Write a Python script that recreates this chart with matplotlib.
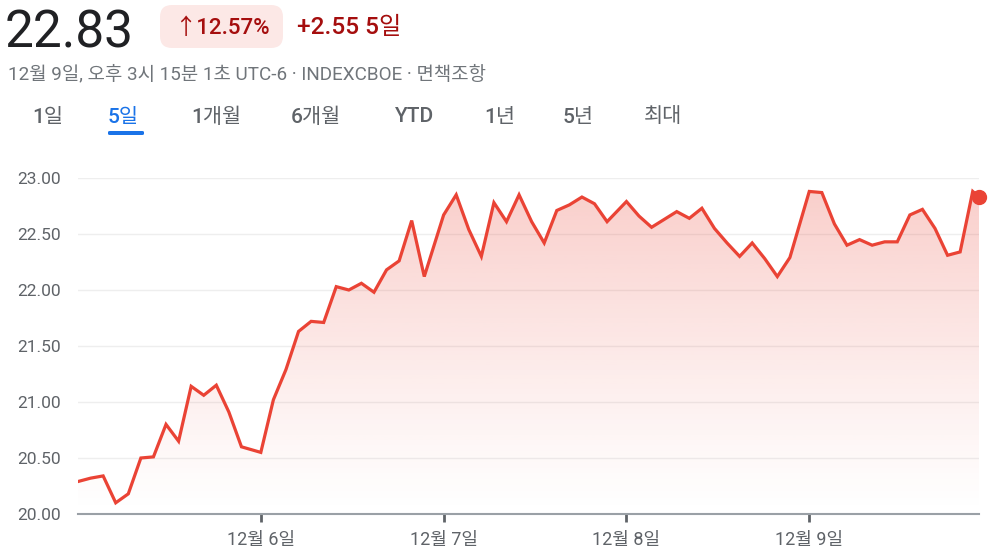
import numpy as np
import matplotlib.pyplot as plt
from matplotlib.patches import FancyBboxPatch

# 30-minute quotes per trading day (08:30 .. 15:00), last day also has the 15:15 close
day_labels = ['12월 5일', '12월 6일', '12월 7일', '12월 8일', '12월 9일']
slot_times = ['08:30', '09:00', '09:30', '10:00', '10:30', '11:00', '11:30',
              '12:00', '12:30', '13:00', '13:30', '14:00', '14:30', '15:00']
last_time = '15:15'

dec5 = [20.29, 20.32, 20.34, 20.10, 20.18, 20.50, 20.51, 20.80, 20.65, 21.14, 21.06, 21.15, 20.91, 20.60]
dec6 = [20.55, 21.02, 21.29, 21.63, 21.72, 21.71, 22.03, 22.00, 22.06, 21.98, 22.18, 22.26, 22.62, 22.12]
dec7 = [22.67, 22.85, 22.54, 22.30, 22.78, 22.61, 22.85, 22.61, 22.42, 22.71, 22.76, 22.83, 22.77, 22.61]
dec8 = [22.79, 22.66, 22.56, 22.63, 22.70, 22.64, 22.73, 22.55, 22.42, 22.30, 22.42, 22.28, 22.12, 22.29]
dec9 = [22.88, 22.87, 22.59, 22.40, 22.45, 22.40, 22.43, 22.43, 22.67, 22.72, 22.55, 22.31, 22.34, 22.88, 22.83]

y_ticks = [20.0, 20.5, 21.0, 21.5, 22.0, 22.5, 23.0]
tabs = ['1일', '5일', '1개월', '6개월', 'YTD', '1년', '5년', '최대']

RED = '#ea4335'
GRAY = '#5f6368'
FONT = ['Roboto', 'Noto Sans CJK KR', 'DejaVu Sans']
plt.rcParams['font.family'] = FONT

DAY_SLOTS = 14.54  # width of one day on the compressed time axis, in 30-min slots


def slot(t):
    h, m = t.split(':')
    return (int(h) * 60 + int(m) - 510) / 30.0


xs, ys = [], []
for d, vals in enumerate([dec5, dec6, dec7, dec8, dec9]):
    times = slot_times + ([last_time] if len(vals) > len(slot_times) else [])
    for t, v in zip(times, vals):
        xs.append(d * DAY_SLOTS + slot(t))
        ys.append(v)
xs = np.array(xs)
ys = np.array(ys)

W, H = 997, 554
fig = plt.figure(figsize=(W / 100, H / 100), dpi=100)


def fx(x):
    return x / W


def fy(y):
    return 1 - y / H


ax = fig.add_axes([fx(78), fy(514), fx(979) - fx(78), fy(178) - fy(514)])
ax.set_xlim(xs[0], xs[-1])
ax.set_ylim(20.0, 23.0)

# gradient fill under the line
fill = ax.fill_between(xs, ys, 20.0, facecolor='none', edgecolor='none')
grad = np.zeros((256, 1, 4))
grad[:, 0, 0] = 234 / 255
grad[:, 0, 1] = 67 / 255
grad[:, 0, 2] = 53 / 255
grad[:, 0, 3] = np.linspace(0.32, 0.0, 256) ** 1.15
im = ax.imshow(grad, extent=[xs[0], xs[-1], 20.0, 23.0], aspect='auto',
               origin='upper', zorder=1)
im.set_clip_path(fill.get_paths()[0], transform=ax.transData)

ax.plot(xs, ys, color=RED, lw=2.3, zorder=3, solid_joinstyle='miter')
ax.plot(xs[-1], ys[-1], 'o', color=RED, ms=10, zorder=4, clip_on=False)

for sp in ['top', 'right', 'left']:
    ax.spines[sp].set_visible(False)
ax.spines['bottom'].set_color('#9aa0a6')
ax.spines['bottom'].set_linewidth(1.5)

ax.set_yticks(y_ticks)
ax.set_yticklabels([f'{v:.2f}' for v in y_ticks])
ax.tick_params(axis='y', length=0, pad=12, labelsize=12.5, labelcolor=GRAY)
ax.grid(axis='y', color='#eeeeee', lw=1)
ax.set_axisbelow(True)

ax.set_xticks([d * DAY_SLOTS for d in range(1, len(day_labels))])
ax.set_xticklabels(day_labels[1:])
ax.tick_params(axis='x', length=6, width=2, color='#5f6368', pad=6,
               labelsize=13, labelcolor=GRAY)

# header
fig.text(fx(5), fy(33), '22.83', fontsize=37, color='#202124', va='center', ha='left')
badge = FancyBboxPatch((fx(160), fy(48)), fx(123), fy(5) - fy(48),
                       boxstyle='round,pad=0,rounding_size=0.012',
                       transform=fig.transFigure, facecolor='#fce8e6',
                       edgecolor='none', mutation_aspect=W / H)
fig.patches.append(badge)
fig.text(fx(174), fy(28), '↑12.57%', fontsize=16, fontweight='medium',
         color='#a50e0e', va='center', ha='left')
fig.text(fx(297), fy(28), '+2.55 5일', fontsize=17.5, fontweight='medium',
         color='#a50e0e', va='center', ha='left')
fig.text(fx(8), fy(74), '12월 9일, 오후 3시 15분 1초 UTC-6 · INDEXCBOE · 면책조항',
         fontsize=13.6, color='#70757a', va='center', ha='left')

tab_x = [32, 108, 191, 291, 395, 484, 563, 644]
for i, (label, x) in enumerate(zip(tabs, tab_x)):
    fig.text(fx(x), fy(117), label, fontsize=15, fontweight='medium',
             color='#1a73e8' if i == 1 else GRAY, va='center', ha='left')
fig.patches.append(FancyBboxPatch((fx(108), fy(135)), fx(36), fy(131) - fy(135),
                                  boxstyle='round,pad=0,rounding_size=0.002',
                                  transform=fig.transFigure, facecolor='#1a73e8',
                                  edgecolor='none'))

fig.savefig('out.png', dpi=100)
